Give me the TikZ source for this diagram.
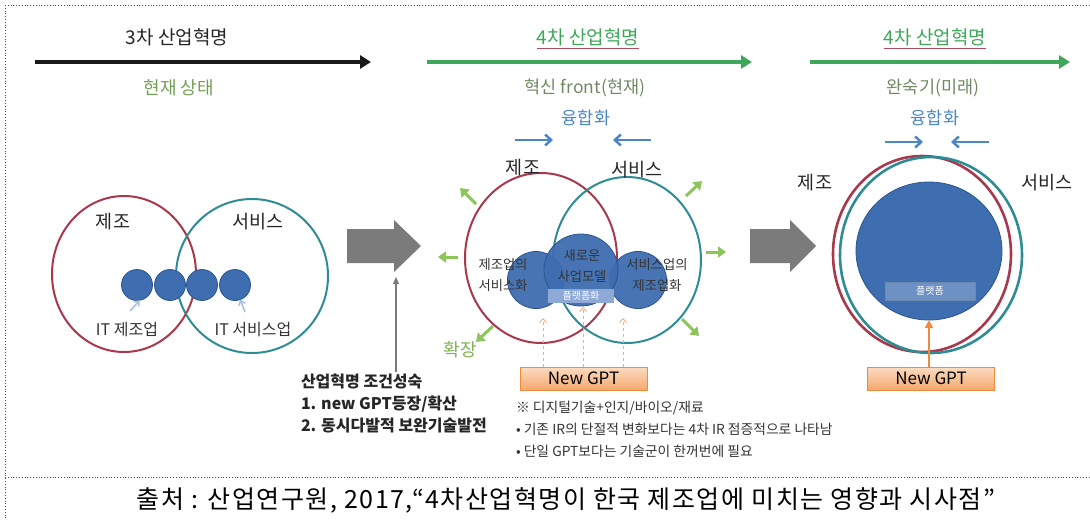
\documentclass[tikz,border=0pt]{standalone}
\usepackage{fontspec}
\setmainfont{Noto Sans CJK KR}
\usetikzlibrary{arrows.meta,shapes.geometric}
\definecolor{cred}{HTML}{A8394C}
\definecolor{cteal}{HTML}{2F8C95}
\definecolor{cblue}{HTML}{3E6DB0}
\definecolor{cblueD}{HTML}{2B558F}
\definecolor{cgreen}{HTML}{3FA75A}
\definecolor{cgreenL}{HTML}{8CC65A}
\definecolor{colive}{HTML}{72A055}
\definecolor{cgrayt}{HTML}{6F8A62}
\definecolor{cgray}{HTML}{7B7B7B}
\definecolor{corange}{HTML}{F08A3C}
\definecolor{corangeL}{HTML}{FCDCC2}
\definecolor{cfuse}{HTML}{4A86C8}
\definecolor{clblue}{HTML}{A9C0E0}
\definecolor{cpf}{HTML}{8EA9D6}
\begin{document}
\begin{tikzpicture}[x=1pt,y=-1pt,
  every node/.style={inner sep=0pt,outer sep=0pt},
  fs/.style={font=\fontsize{#1}{#1}\selectfont},
  frame/.style={dotted,line width=0.8pt,black!70},
  title/.style={fs=19,text=black!85},
  gtitle/.style={fs=19,text=cgreen},
  subt/.style={fs=18,text=colive},
  subg/.style={fs=17.5,text=cgrayt},
  fuse/.style={fs=17.5,text=cfuse},
  timeline/.style={line width=4pt,-{Triangle[length=11pt,width=13pt]}},
  ring/.style={line width=2pt},
  thickring/.style={line width=2.6pt},
  blob/.style={fill=cblue,draw=cblueD,line width=0.8pt},
  fusearrow/.style={cfuse,line width=2.5pt,-{Straight Barb[length=6pt,width=11pt]}},
  growarrow/.style={cgreenL,line width=3pt,-{Triangle[length=8pt,width=11pt]}},
  gptbox/.style={draw=corange,line width=1pt,top color=corangeL,bottom color=corange!75,minimum width=127pt,minimum height=23pt,fs=17},
  gptdash/.style={corange!70,dashed,line width=0.9pt,-{Straight Barb[length=4pt,width=7pt]}},
  lbl/.style={fs=18.5,text=black!85},
  itlbl/.style={fs=16,text=black!80},
  blobtxt/.style={font=\fontsize{13.3}{21}\selectfont,align=center,text=black!80},
  bigarrow/.style={fill=cgray}
]
\useasboundingbox (0,0) rectangle (1090,520);
% frame
\draw[frame] (5,5) -- (1090,5);
\draw[frame] (5,5) -- (5,520);
\draw[frame] (5,477) -- (1090,477);

% timeline 1
\node[title] (t1) at (177,37) {3차 산업혁명};
\coordinate (a1s) at (35,62); \coordinate (a1e) at (371,62);
\draw[timeline,black!90] (a1s) -- (a1e);
\node[subt] (s1) at (179,88) {현재 상태};

% timeline 2
\node[gtitle] (t2) at (588,37) {4차 산업혁명};
\draw[cred!90,line width=1.2pt] ([yshift=-3pt]t2.south west) -- ([yshift=-3pt]t2.south east);
\coordinate (a2s) at (427,62); \coordinate (a2e) at (752,62);
\draw[timeline,cgreen] (a2s) -- (a2e);
\node[subg] (s2) at (585,88) {혁신 front(현재)};
\node[fuse] (f2) at (586,118) {융합화};
\coordinate (f2a) at (515,140); \coordinate (f2b) at (553,140);
\coordinate (f2c) at (651,140); \coordinate (f2d) at (613,140);
\draw[fusearrow] (f2a) -- (f2b);
\draw[fusearrow] (f2c) -- (f2d);

% timeline 3
\node[gtitle] (t3) at (935,37) {4차 산업혁명};
\draw[cred!90,line width=1.2pt] ([yshift=-3pt]t3.south west) -- ([yshift=-3pt]t3.south east);
\coordinate (a3s) at (810,62); \coordinate (a3e) at (1070,62);
\draw[timeline,cgreen] (a3s) -- (a3e);
\node[subg] (s3) at (933,88) {완숙기(미래)};
\node[fuse] (f3) at (935,118) {융합화};
\coordinate (f3a) at (885,142); \coordinate (f3b) at (923,142);
\coordinate (f3c) at (989,142); \coordinate (f3d) at (951,142);
\draw[fusearrow] (f3a) -- (f3b);
\draw[fusearrow] (f3c) -- (f3d);

% ---------- left diagram
\draw[ring,cred] (124,274) ellipse [x radius=72,y radius=78];
\draw[ring,cteal] (252,276) ellipse [x radius=76,y radius=77];
\node[lbl] (lm) at (113,222) {제조};
\node[lbl] (ls) at (258,222) {서비스};
\node[circle,blob,minimum size=31pt] (d1) at (137,285) {};
\node[circle,blob,minimum size=31pt] (d2) at (170,285) {};
\node[circle,blob,minimum size=31pt] (d3) at (202,285) {};
\node[circle,blob,minimum size=31pt] (d4) at (235,285) {};
\node[itlbl] (itm) at (127,330) {IT 제조업};
\node[itlbl] (its) at (253,330) {IT 서비스업};
\coordinate (itma) at (130,311); \coordinate (itsa) at (245,312);
\draw[clblue,line width=1.6pt,-{Straight Barb[length=4pt,width=7pt]}] (itma) -- (d1.-80);
\draw[clblue,line width=1.6pt,-{Straight Barb[length=4pt,width=7pt]}] (itsa) -- (d4.-70);

% big gray arrow 1
\fill[bigarrow] (347,229) -- (394,229) -- (394,220) -- (421,246) -- (394,272) -- (394,263) -- (347,263) -- cycle;
\coordinate (ga1) at (396,277);
\node[align=left,anchor=north west,text=black!85,font=\bfseries\fontsize{16}{22}\selectfont] (cond) at (301,374)
  {산업혁명 조건성숙\\1. new GPT등장/확산\\2. 동시다발적 보완기술발전};
\coordinate (gb1) at (396,372);
\draw[cgray,line width=1.3pt,-{Triangle[length=7pt,width=6pt]}] (gb1) -- (ga1);

% ---------- middle diagram
\draw[ring,cred] (541,258) ellipse [x radius=76,y radius=85];
\draw[ring,cteal] (627,260) ellipse [x radius=74,y radius=83];
\node[lbl] (mm) at (523,168) {제조};
\node[lbl] (ms) at (637,170) {서비스};
\node[circle,blob,minimum size=57pt,fill opacity=0.95] (bl) at (536,280) {};
\node[circle,blob,minimum size=57pt,fill opacity=0.95] (br) at (638,280) {};
\node[ellipse,blob,minimum width=74pt,minimum height=72pt,fill opacity=0.95] (bm) at (581,270) {};
\node[blobtxt] (tl) at (503,275) {제조업의\\서비스화};
\node[blobtxt] (tm) at (582,266) {새로운\\사업모델};
\node[blobtxt] (tr) at (657,275) {서비스업의\\제조업화};
\node[fill=cpf,fs=10,text=white,minimum width=66pt,minimum height=14pt] (pf1) at (581,296) {플랫폼화};
% growth arrows
\coordinate (e1s) at (476,204); \coordinate (e1e) at (460,188);
\coordinate (e2s) at (458,257); \coordinate (e2e) at (438,257);
\coordinate (e3s) at (493,326); \coordinate (e3e) at (476,342);
\coordinate (e4s) at (686,196); \coordinate (e4e) at (702,181);
\coordinate (e5s) at (706,252); \coordinate (e5e) at (726,252);
\coordinate (e6s) at (682,319); \coordinate (e6e) at (699,336);
\draw[growarrow] (e1s) -- (e1e);
\draw[growarrow] (e2s) -- (e2e);
\draw[growarrow] (e3s) -- (e3e);
\draw[growarrow] (e4s) -- (e4e);
\draw[growarrow] (e5s) -- (e5e);
\draw[growarrow] (e6s) -- (e6e);
\node[fs=18,text=cgreenL!90!black] (gx) at (460,350) {확장};
% new GPT
\node[gptbox] (gpt1) at (583.5,378.5) {New GPT};
\coordinate (o1) at (543,318); \coordinate (o2) at (583,307); \coordinate (o3) at (623,318);
\draw[gptdash] (gpt1.north -| o1) -- (o1);
\draw[gptdash] (gpt1.north -| o2) -- (o2);
\draw[gptdash] (gpt1.north -| o3) -- (o3);
\node[anchor=north west,align=left,text=black!80,font=\fontsize{13.8}{22}\selectfont] (notes) at (516,401)
  {※ 디지털기술+인지/바이오/재료\\• 기존 IR의 단절적 변화보다는 4차 IR 점증적으로 나타남\\• 단일 GPT보다는 기술군이 한꺼번에 필요};

% big gray arrow 2
\fill[bigarrow] (750,229) -- (790,229) -- (790,220) -- (816,246) -- (790,272) -- (790,263) -- (750,263) -- cycle;

% ---------- right diagram
\draw[thickring,cred] (922,254) ellipse [x radius=89,y radius=98];
\draw[thickring,cteal] (931,255) ellipse [x radius=91,y radius=98];
\node[ellipse,blob,minimum width=146pt,minimum height=138pt] (big) at (929,251) {};
\node[fill=cblue!75!white,draw=cblueD!70,line width=0.6pt,fs=10,text=white,minimum width=90pt,minimum height=18pt] (pf2) at (930,291) {플랫폼};
\node[lbl] (rm) at (815,183) {제조};
\node[lbl] (rs) at (1047,183) {서비스};
\node[gptbox] (gpt2) at (931,378.5) {New GPT};
\draw[corange,line width=2pt,-{Triangle[length=8pt,width=8pt]}] (gpt2.north -| big.south) -- (big.south);

% footer
\node[text=black,font=\fontsize{25}{25}\selectfont\addfontfeatures{LetterSpace=6}] (src) at (566,500) {출처 : 산업연구원, 2017,“4차산업혁명이 한국 제조업에 미치는 영향과 시사점”};
\end{tikzpicture}
\end{document}
